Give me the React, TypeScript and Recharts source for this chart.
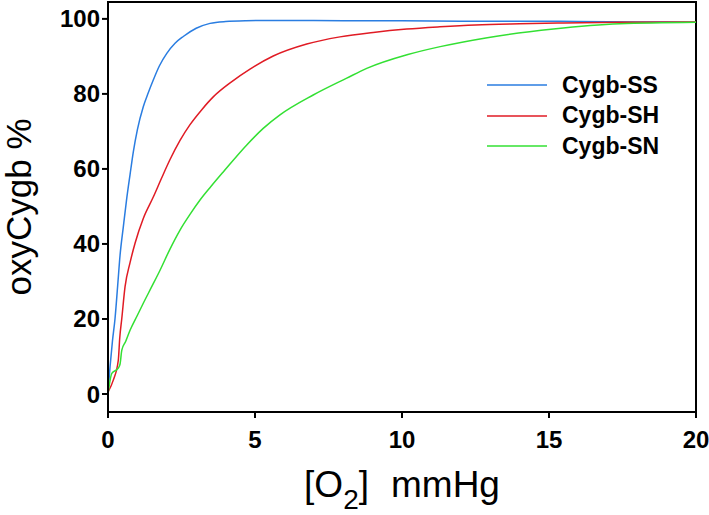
import React from 'react';
import {
  LineChart,
  Line,
  XAxis,
  YAxis,
  Legend,
  ReferenceArea
} from 'recharts';

// [O2] in mmHg and oxyCygb %, one pair of arrays per mutant
const ssO2 = [0, 0.07, 0.15, 0.24, 0.33, 0.41, 0.52, 0.63, 0.75, 0.86, 1.0, 1.2, 1.37, 1.54, 1.75, 2.0, 2.28, 2.56, 3.0, 3.47, 4.0, 4.7, 6, 8, 10, 12, 14, 16, 18, 20];
const ssPct = [0.5, 7.3, 14, 20.2, 29, 37, 44.5, 51.7, 58.5, 64.5, 70.5, 76.6, 80.3, 83.7, 87.5, 90.8, 93.5, 95.3, 97.5, 98.8, 99.3, 99.5, 99.6, 99.5, 99.5, 99.4, 99.4, 99.3, 99.2, 99.1];

const shO2 = [0, 0.18, 0.35, 0.4, 0.47, 0.58, 0.75, 0.92, 1.2, 1.54, 1.82, 2.11, 2.45, 2.79, 3.19, 3.58, 4.2, 4.83, 5.62, 6.76, 7.89, 9.02, 10.16, 11.29, 12.5, 14, 15.5, 17.4, 20];
const shPct = [0.5, 3.7, 9, 15, 20.2, 28.6, 35, 40.2, 46.8, 52.5, 57.5, 62.5, 67.6, 71.8, 75.8, 79.2, 83.2, 86.6, 90.1, 93.3, 95.2, 96.4, 97.3, 97.9, 98.4, 98.7, 98.9, 99.1, 99.2];

const snO2 = [0, 0.13, 0.35, 0.41, 0.47, 0.6, 0.75, 1.0, 1.2, 1.5, 1.77, 2.1, 2.45, 2.8, 3.13, 3.5, 3.92, 4.72, 5.28, 5.85, 6.98, 8.12, 8.8, 10.2, 11.3, 12.9, 15.15, 17.4, 20];
const snPct = [0, 5.5, 6.9, 8, 11.7, 14, 17, 21, 24.2, 28.8, 33, 38.5, 43.7, 48, 51.7, 55.3, 59.2, 66.4, 70.8, 74.4, 79.7, 84.2, 86.8, 90.5, 92.6, 95.0, 97.3, 98.7, 99.1];

const xTicks = [0, 5, 10, 15, 20];
const yTicks = [0, 20, 40, 60, 80, 100];

const toPoints = (xs: number[], ys: number[]) => xs.map((x, i) => ({ o2: x, pct: ys[i] }));

const series = [
  { name: 'Cygb-SS', color: '#2a7de1', data: toPoints(ssO2, ssPct) },
  { name: 'Cygb-SH', color: '#e01b24', data: toPoints(shO2, shPct) },
  { name: 'Cygb-SN', color: '#33e033', data: toPoints(snO2, snPct) }
];

const FONT = '"Liberation Sans", Arial, sans-serif';

const LegendBox = () => (
  <div style={{ fontFamily: FONT }}>
    {series.map((s) => (
      <div key={s.name} style={{ display: 'flex', alignItems: 'center', height: 30.5 }}>
        <svg width={60} height={4} style={{ marginRight: 15 }}>
          <line x1={0} y1={2} x2={60} y2={2} stroke={s.color} strokeWidth={1.5} />
        </svg>
        <span style={{ fontSize: 23, fontWeight: 'bold', color: '#000' }}>{s.name}</span>
      </div>
    ))}
  </div>
);

const XTitle = (props: any) => {
  const { x, y, width } = props.viewBox;
  return (
    <text x={x + width / 2} y={y + 85} textAnchor="middle" fontFamily={FONT} fontSize={37} fill="#000">
      [O<tspan fontSize={28} dy={12}>2</tspan>
      <tspan dy={-12}>]</tspan>
      <tspan dx={22}>mmHg</tspan>
    </text>
  );
};

const YTitle = (props: any) => {
  const { y, height } = props.viewBox;
  const cx = 31;
  const cy = y + height / 2;
  return (
    <text
      x={cx}
      y={cy}
      transform={`rotate(-90, ${cx}, ${cy})`}
      textAnchor="middle"
      fontFamily={FONT}
      fontSize={35}
      fill="#000"
    >
      oxyCygb %
    </text>
  );
};

const App: React.FC = () => {
  const tickStyle = { fontSize: 24, fontWeight: 'bold', fill: '#000', fontFamily: FONT };
  return (
    <div style={{ position: 'absolute', left: 0, top: 0, background: '#fff' }}>
      <LineChart width={709} height={515} margin={{ top: 2, right: 13, left: 0, bottom: 0 }}>
        <XAxis
          dataKey="o2"
          type="number"
          domain={[0, 20]}
          ticks={xTicks}
          interval={0}
          allowDataOverflow
          height={103}
          tick={tickStyle}
          tickSize={6}
          tickMargin={13}
          stroke="#000"
          strokeWidth={2}
          label={<XTitle />}
        />
        <YAxis
          dataKey="pct"
          type="number"
          domain={[-4.8, 104.5]}
          ticks={yTicks}
          interval={0}
          allowDataOverflow
          width={108}
          tick={tickStyle}
          tickSize={6}
          tickMargin={2}
          stroke="#000"
          strokeWidth={2}
          label={<YTitle />}
        />
        <ReferenceArea x1={0} x2={20} y1={-4.8} y2={104.5} fill="none" stroke="#000" strokeWidth={2} />
        {series.map((s) => (
          <Line
            key={s.name}
            data={s.data}
            dataKey="pct"
            name={s.name}
            type="monotone"
            stroke={s.color}
            strokeWidth={1.5}
            dot={false}
            isAnimationActive={false}
          />
        ))}
        <Legend
          layout="vertical"
          align="center"
          verticalAlign="middle"
          content={<LegendBox />}
          wrapperStyle={{ left: 487, top: 70, width: 'auto' }}
        />
      </LineChart>
    </div>
  );
};

export default App;
